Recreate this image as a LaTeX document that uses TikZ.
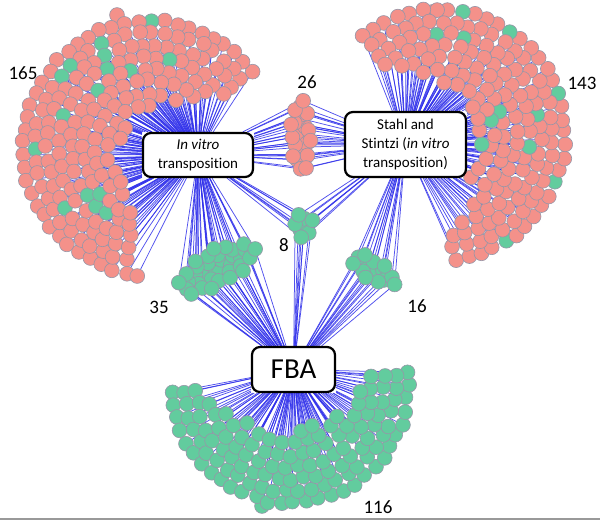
\documentclass[tikz,border=0pt]{standalone}
\usepackage{fontspec}
\setmainfont{Carlito}[Ligatures=NoCommon]
\pgfdeclarelayer{fg}
\pgfsetlayers{main,fg}
\definecolor{nred}{RGB}{244,145,138}
\definecolor{ngreen}{RGB}{98,204,158}
\definecolor{nborder}{RGB}{150,150,168}
\definecolor{edgeblue}{RGB}{50,50,235}
\tikzset{
  gene/.style={circle, draw=nborder, line width=0.6pt, minimum size=14.8pt, inner sep=0pt},
  hub/.style={draw=black, line width=2.2pt, rounded corners=8pt, fill=white, align=center,
    inner sep=2pt, font=\fontsize{15}{19}\selectfont},
  edge/.style={draw=edgeblue, line width=0.75pt, opacity=0.85},
  count/.style={font=\fontsize{19}{22}\selectfont, inner sep=0pt},
}
\newcommand\setring[4]{\def\Ccx{#1}\def\Ccy{#2}\def\Caa{#3}\def\Cab{#4}}
\newcommand\setexcl[4]{\def\Ex{#1}\def\Ey{#2}\def\Ea{#3}\def\Eb{#4}}
% ring cluster: #1 prefix, #2 radii list, #3 list macro name, #4 green test
\newcommand\ringpts[4]{%
  \foreach \r in {#2} {
    \pgfmathtruncatemacro\n{round(\r/57.2958*(\Cab-\Caa)/13)}
    \foreach \k in {0,...,\n} {
      \pgfmathsetmacro\ang{\Caa+(\Cab-\Caa)*\k/\n}
      \pgfmathsetmacro\px{\Ccx+\r*cos(\ang)+1.8*rand}
      \pgfmathsetmacro\py{\Ccy-\r*sin(\ang)+1.8*rand}
      \pgfmathtruncatemacro\keep{(((\px-\Ex)/\Ea)^2+((\py-\Ey)/\Eb)^2>1)&&!(\Extra)}
      \ifnum\keep=1
        \pgfmathtruncatemacro\isg{#4}
        \ifnum\isg=1 \def\fc{ngreen}\else\def\fc{nred}\fi
        \coordinate (#1-\r-\k) at (\px,\py);
        \xdef#3{#3,#1-\r-\k/\fc}
      \fi
    }
  }}
\begin{document}
\begin{tikzpicture}[x=1pt,y=-1pt]
\pgfmathsetseed{11}
\useasboundingbox (0,0) rectangle (600,520);
\fill[white] (0,0) rectangle (600,520);
\draw[gray!80, line width=1.2pt] (0,519) -- (600,519);

\begin{pgfonlayer}{fg}
\node[hub, minimum width=110pt, minimum height=44pt] (iv) at (198,155) {\textit{In vitro}\\transposition};
\node[hub, minimum width=121pt, minimum height=65pt] (ss) at (405.5,144.5) {Stahl and\\Stintzi (\textit{in vitro}\\transposition)};
\node[hub, minimum width=83pt, minimum height=45pt, font=\fontsize{29}{32}\selectfont] (fba) at (293.5,369.5) {FBA};
\end{pgfonlayer}

% ---------- positions ----------
% 165 cluster (In vitro)
\coordinate (a-top) at (117,15);
\gdef\ListA{a-top/nred}
\setring{150}{148}{37}{265}
\setexcl{198}{155}{80}{55}
\def\Extra{(\py>140)&&(\px>122+0.15*(\py-150))}
\ringpts{a}{127,115,...,31}{\ListA}{rnd<0.1}
% 143 cluster (Stahl and Stintzi)
\coordinate (b-top) at (432,12);
\gdef\ListB{b-top/nred}
\setring{440}{135}{-83}{128}
\setexcl{405}{146}{72}{72}
\def\Extra{(\py>180)&&(\px<480-0.5*(\py-182))}
\ringpts{b}{125,113,...,41}{\ListB}{rnd<0.08}
% 116 cluster (FBA)
\coordinate (f-bot) at (262,506);
\gdef\ListF{f-bot/ngreen}
\setring{290}{385}{-176}{6}
\setexcl{293}{369}{72}{58}
\def\Extra{(\px>205)&&(\px<290)&&(\py<398+0.53*(\px-205))}
\ringpts{f}{118,106,...,46}{\ListF}{1}
% 26 : In vitro + Stahl
\coordinate (c-0) at (301,136);
\gdef\ListC{c-0/nred}
\foreach \k in {1,...,25} {
  \pgfmathsetmacro\rr{sqrt((\k+0.5)/26)}
  \coordinate (c-\k) at ({301+10.5*\rr*cos(\k*137.508)},{136+38*\rr*sin(\k*137.508)});
  \xdef\ListC{\ListC,c-\k/nred}
}
% 8 : all three
\coordinate (d-0) at (304,226);
\gdef\ListD{d-0/ngreen}
\foreach \k in {1,...,7} {
  \pgfmathsetmacro\rr{sqrt((\k+0.5)/8)}
  \coordinate (d-\k) at ({304+12*\rr*cos(\k*137.508)},{226+13*\rr*sin(\k*137.508)});
  \xdef\ListD{\ListD,d-\k/ngreen}
}
% 35 : In vitro + FBA
\coordinate (e-0) at (216,268);
\gdef\ListE{e-0/ngreen}
\foreach \k in {1,...,34} {
  \pgfmathsetmacro\rr{sqrt((\k+0.5)/35)}
  \pgfmathsetmacro\u{44*\rr*cos(\k*137.508)}
  \pgfmathsetmacro\v{19*\rr*sin(\k*137.508)}
  \coordinate (e-\k) at ({216+\u*cos(28)-\v*sin(28)},{268-(\u*sin(28)+\v*cos(28))});
  \xdef\ListE{\ListE,e-\k/ngreen}
}
% 16 : Stahl + FBA
\coordinate (g-0) at (374,270);
\gdef\ListG{g-0/ngreen}
\foreach \k in {1,...,15} {
  \pgfmathsetmacro\rr{sqrt((\k+0.5)/16)}
  \pgfmathsetmacro\u{28*\rr*cos(\k*137.508)}
  \pgfmathsetmacro\v{11*\rr*sin(\k*137.508)}
  \coordinate (g-\k) at ({374+\u*cos(-30)-\v*sin(-30)},{270-(\u*sin(-30)+\v*cos(-30))});
  \xdef\ListG{\ListG,g-\k/ngreen}
}

% ---------- connectors ----------
\foreach \nm/\c in \ListA {\draw[edge] (iv) -- (\nm);}
\foreach \nm/\c in \ListB {\draw[edge] (ss) -- (\nm);}
\foreach \nm/\c in \ListF {\draw[edge] (fba) -- (\nm);}
\foreach \nm/\c in \ListC {\draw[edge] (iv) -- (\nm); \draw[edge] (ss) -- (\nm);}
\foreach \nm/\c in \ListD {\draw[edge] (iv) -- (\nm); \draw[edge] (ss) -- (\nm); \draw[edge] (fba) -- (\nm);}
\foreach \nm/\c in \ListE {\draw[edge] (iv) -- (\nm); \draw[edge] (fba) -- (\nm);}
\foreach \nm/\c in \ListG {\draw[edge] (ss) -- (\nm); \draw[edge] (fba) -- (\nm);}

% ---------- gene nodes ----------
\foreach \nm/\c in \ListA {\node[gene, fill=\c] (n\nm) at (\nm) {};}
\foreach \nm/\c in \ListB {\node[gene, fill=\c] (n\nm) at (\nm) {};}
\foreach \nm/\c in \ListF {\node[gene, fill=\c] (n\nm) at (\nm) {};}
\foreach \nm/\c in \ListC {\node[gene, fill=\c] (n\nm) at (\nm) {};}
\foreach \nm/\c in \ListD {\node[gene, fill=\c] (n\nm) at (\nm) {};}
\foreach \nm/\c in \ListE {\node[gene, fill=\c] (n\nm) at (\nm) {};}
\foreach \nm/\c in \ListG {\node[gene, fill=\c] (n\nm) at (\nm) {};}

% ---------- counts ----------
\node[count] (n165) at (23,73) {165};
\node[count] (n26) at (307,82) {26};
\node[count] (n143) at (582,83) {143};
\node[count] (n8) at (284,245) {8};
\node[count] (n35) at (159,307) {35};
\node[count] (n16) at (417,306) {16};
\node[count] (n116) at (378,507) {116};
\end{tikzpicture}
\end{document}
